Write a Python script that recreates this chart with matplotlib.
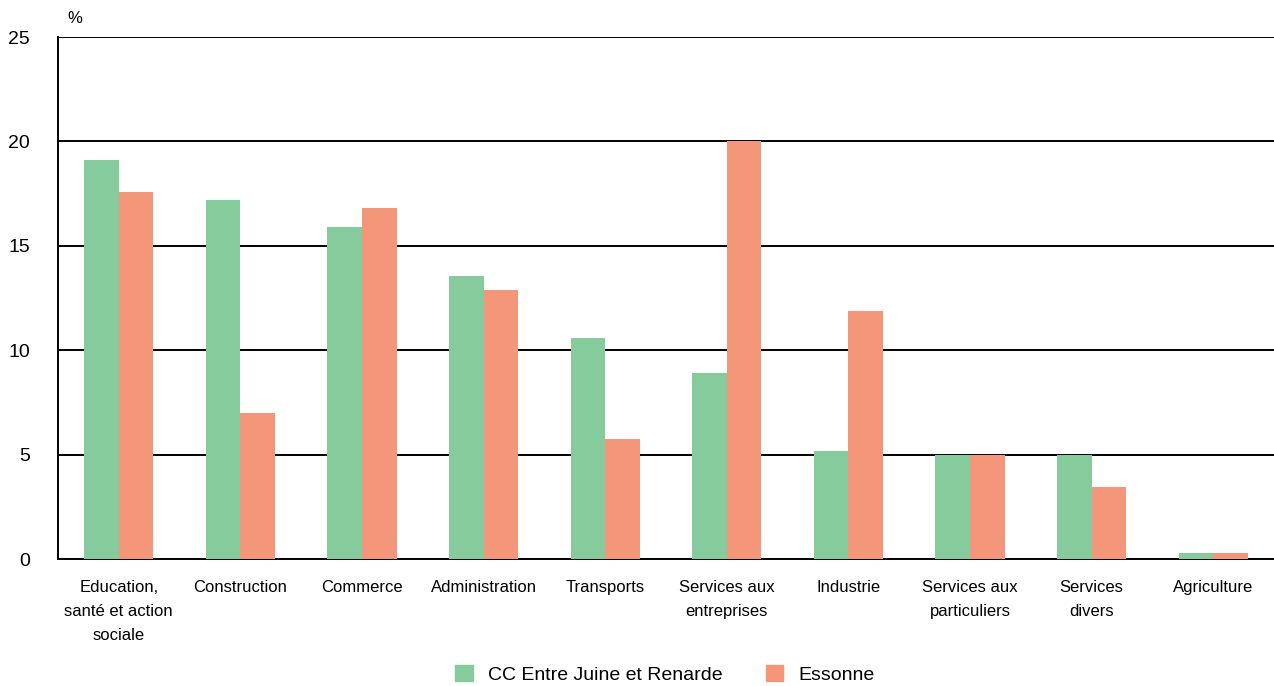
import numpy as np
import matplotlib
matplotlib.use("Agg")
import matplotlib.pyplot as plt
from matplotlib.patches import Patch

categories = ["Education,\nsanté et action\nsociale", "Construction", "Commerce",
              "Administration", "Transports", "Services aux\nentreprises", "Industrie",
              "Services aux\nparticuliers", "Services\ndivers", "Agriculture"]
cc_juine = [19.1, 17.2, 15.9, 13.55, 10.6, 8.9, 5.2, 5.0, 5.0, 0.3]
essonne = [17.6, 7.0, 16.8, 12.9, 5.75, 20.0, 11.9, 5.0, 3.45, 0.3]
series_names = ["CC Entre Juine et Renarde", "Essonne"]

green = "#86cb9c"
orange = "#f4967a"

plt.rcParams['font.family'] = ['Liberation Sans', 'DejaVu Sans']

fig = plt.figure(figsize=(12.74, 6.86), dpi=100)
ax = fig.add_axes([0.0455, 0.185, 0.9545, 0.761])

x = np.arange(len(categories))
w = 0.285
ax.bar(x - w/2, cc_juine, w, color=green, zorder=3)
ax.bar(x + w/2, essonne, w, color=orange, zorder=3)

ax.set_xlim(-0.5, len(categories) - 0.5)
ax.set_ylim(0, 25)
ax.set_yticks([0, 5, 10, 15, 20, 25])
ax.yaxis.grid(True, color='black', linewidth=1.4, zorder=1)
ax.set_axisbelow(True)
for s in ['top', 'right']:
    ax.spines[s].set_visible(False)
ax.spines['left'].set_linewidth(1.4)
ax.spines['bottom'].set_linewidth(1.4)
ax.tick_params(axis='both', length=0)
ax.tick_params(axis='y', labelsize=14, pad=20)
ax.set_xticks(x)
ax.set_xticklabels(categories, fontsize=12, linespacing=1.75)
ax.tick_params(axis='x', pad=15)

ax.text(-0.42, 25.55, "%", fontsize=12, ha='left', va='bottom')

handles = [Patch(color=green), Patch(color=orange)]
fig.legend(handles, series_names, loc='lower center', bbox_to_anchor=(0.522, -0.022),
           ncol=2, frameon=False, fontsize=14, handlelength=0.9, handleheight=0.9,
           columnspacing=2.2)

fig.savefig("out.png", dpi=100)
